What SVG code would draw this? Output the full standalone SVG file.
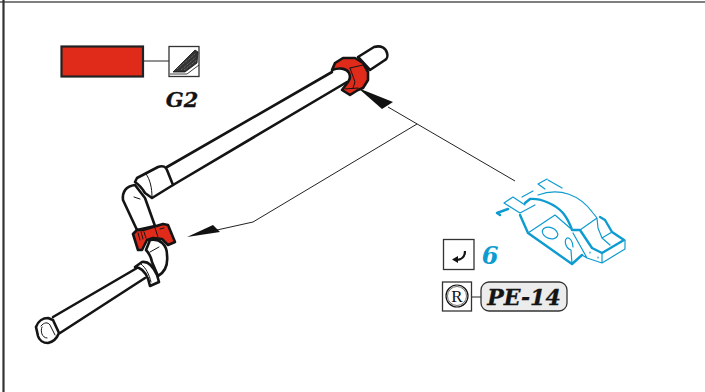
<svg xmlns="http://www.w3.org/2000/svg" width="705" height="392" viewBox="0 0 705 392">
<style>
.p{fill:#fff;stroke:#141414;stroke-width:2.600;stroke-linejoin:round;stroke-linecap:round}
.o{fill:none;stroke:#141414;stroke-width:2.600;stroke-linecap:round;stroke-linejoin:round}
.f{fill:none;stroke:#141414;stroke-width:1;stroke-linecap:round}
.r{fill:#e02b1b;stroke:#141414;stroke-width:2.600;stroke-linejoin:round}
.b{fill:none;stroke:#0e9bd0;stroke-width:1.200;stroke-linecap:round;stroke-linejoin:round}
.B{fill:none;stroke:#0e9bd0;stroke-width:2.400;stroke-linecap:round;stroke-linejoin:round}
.t{font-family:"DejaVu Serif",serif;font-weight:bold;font-style:italic}
.box{fill:#fff;stroke:#333;stroke-width:1.300}
</style>
<rect width="705" height="392" fill="#fff"/>
<g id="frame"><path d="M0 2H705" stroke="#555" stroke-width="1.400" fill="none"/><path d="M3.500 0V392" stroke="#333" stroke-width="2.200" fill="none"/></g>

<g id="connectors">
<path d="M143 61H169M471 297H481" stroke="#222" stroke-width="1" fill="none"/>
<path d="M388 107L515 181" stroke="#222" stroke-width="1" fill="none"/>
<path d="M417 124L253 222L217 230" stroke="#222" stroke-width="1" fill="none"/>
<path d="M358 88L393 102L382 109Z" fill="#111"/>
<path d="M187 237L213 225L220 232Z" fill="#111"/>
</g>

<g id="pipe">
<path class="p" d="M358 57L374 47C381 45 386 48 387 53C388 56 387 59 385 60L370 70Z"/>
<path class="o" d="M332 72L167 167M347 82L173 185"/>
<path class="p" d="M135 185C126 186 122 192 123 200L137 230L155 226L145 198Z"/>
<path class="p" d="M135 182L137 178L158 167C163 165 166 167 167 170L173 185L152 198L145 193C142 188 138 184 135 182Z"/>
<path class="f" d="M146 174C150 179 152 188 152 197M134 197L140 199"/>
<path class="o" d="M137 268L53 317M145 278L60 333"/>
<path class="p" d="M150 240C160 238 167 245 167 255C168 264 165 272 158 276L152 262C151 257 149 253 146 250Z"/>
<path class="f" d="M150 252L159 247"/>
<path class="p" d="M135 267L142 262C148 261 153 266 157 275L159 282L150 286C148 276 144 270 139 268Z"/>
<path class="f" d="M141 264C146 268 149 274 151 282"/>
<path class="p" d="M36 327C38 321 43 318 48 318L53 320L59 333C57 338 53 342 48 343C43 343 39 340 38 336Z"/>
<path class="f" d="M41 326C44 322 48 322 50 325L55 335M42 327C40 331 42 338 47 338"/>
</g>

<g id="clamp-top">
<path class="r" d="M332 70L335 63L343 58H355L363 63L368 72V80L363 88L358 90L350 95L342 90L348 82C351 78 350 75 349 73C347 69 341 67 332 70Z"/>
<path class="f" d="M350 68L363 65M350 68L355 82L353 88M345 89L358 88"/>
</g>
<g id="clamp-mid">
<path class="r" d="M133 234L137 230L143 230L163 224L168 225L175 242L168 245L162 239L153 238L147 240L142 250L138 250Z"/>
<path class="f" d="M138 233L140 240M141 232L143 239M144 232L146 238M155 228L158 237M160 229L164 228"/>
</g>

<g id="legend-red"><rect x="61.500" y="46.500" width="81.500" height="30" fill="#e02b1b" stroke="#222" stroke-width="2.200"/></g>
<g id="legend-icon">
<rect class="box" x="169" y="46.500" width="30" height="30"/>
<path d="M173 72L195 50L198 52L197 63L185 72Z" fill="#333" stroke="#111" stroke-width=".8"/>
<path d="M177 69L195 54M181 70L196 57M184 70L197 60" stroke="#999" stroke-width=".7" stroke-dasharray="1 1" fill="none"/>
<path d="M170 74H187L199 65" stroke="#111" stroke-width=".8" fill="none"/>
</g>
<g id="label-g2"><text class="t" x="182" y="107" font-size="21" text-anchor="middle" fill="#141414" stroke="#141414" stroke-width=".3">G2</text></g>

<g id="bracket">
<path class="B" d="M520 215L528 233L572 264L582 255M525 203L530 199C540 198 555 204 563 213C567 218 570 224 572 230H580L592 248L602 253L624 240L612 232L605 220L600 217M497 213L508 209M497 213L500 215"/>
<path class="b" d="M504 203L513 197L525 205M504 203L520 213L535 205M522 197L533 191M538 184L547 179M538 184L545 189M548 180L562 188"/>
<path class="b" d="M538 195C560 187 580 195 593 213L597 218L580 230M528 233L555 215L570 228M597 218L598 228L602 238L610 245M602 238L612 232"/>
<path class="b" d="M602 253V263L625 249V240M602 263L587 258L573 233M582 255L587 258M572 264L571 250C565 248 564 240 567 238C570 237 573 242 573 247M590 252V253M598 257V258"/>
<ellipse class="b" cx="550" cy="233" rx="8" ry="5.500" transform="rotate(20 550 233)"/>
</g>

<g id="icon-return">
<rect class="box" x="443.500" y="239.500" width="30.500" height="30"/>
<path d="M465 251C465 257 461 260 456 260" fill="none" stroke="#111" stroke-width="2.200"/>
<path d="M452 259.500L458 256L458 263Z" fill="#111"/>
</g>
<g id="label-6"><text class="t" x="490" y="264" font-size="24" text-anchor="middle" fill="#0e9bd0">6</text></g>
<g id="icon-r">
<rect class="box" x="442.500" y="282" width="29" height="29"/>
<circle cx="457" cy="296" r="11" fill="none" stroke="#111" stroke-width="1.200"/>
<circle cx="457" cy="296" r="9.500" fill="none" stroke="#111" stroke-width=".6"/>
<text x="457" y="302" font-size="17" text-anchor="middle" font-family="'Liberation Serif',serif" fill="#111">R</text>
</g>
<g id="label-pe14">
<rect x="481" y="282" width="86" height="29" rx="8" fill="#ececec" stroke="#333" stroke-width="1.300"/>
<text class="t" x="524" y="304.500" font-size="22" text-anchor="middle" fill="#141414" stroke="#141414" stroke-width=".3">PE-14</text>
</g>
</svg>
